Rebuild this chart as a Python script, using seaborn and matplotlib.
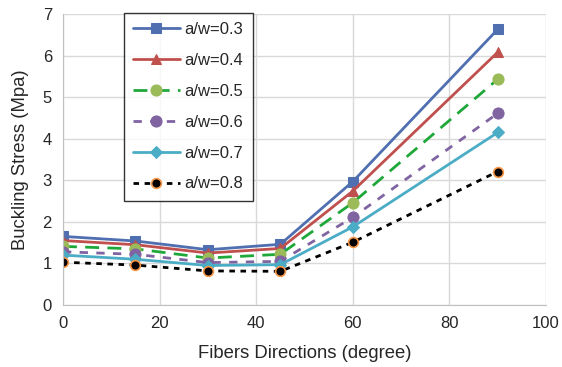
import matplotlib
matplotlib.use("Agg")
import matplotlib.pyplot as plt
import seaborn as sns

# data
angles = [0, 15, 30, 45, 60, 90]
aw_03 = [1.65, 1.54, 1.33, 1.46, 2.97, 6.63]
aw_04 = [1.55, 1.45, 1.25, 1.36, 2.74, 6.08]
aw_05 = [1.41, 1.35, 1.13, 1.22, 2.46, 5.43]
aw_06 = [1.28, 1.22, 1.02, 1.05, 2.11, 4.61]
aw_07 = [1.20, 1.10, 0.95, 0.97, 1.88, 4.15]
aw_08 = [1.03, 0.96, 0.82, 0.81, 1.51, 3.21]
labels = ["a/w=0.3", "a/w=0.4", "a/w=0.5", "a/w=0.6", "a/w=0.7", "a/w=0.8"]

sns.set_style("white")
plt.rcParams['font.family'] = ['Liberation Sans', 'DejaVu Sans']

fig = plt.figure(figsize=(5.62, 3.67), dpi=100)
ax = fig.add_axes([63 / 562, 62 / 367, 483 / 562, 291 / 367])

styles = [
    dict(color='#4F6FB0', linestyle='-', marker='s', ms=7, mfc='#4F6FB0', mec='#4F6FB0'),
    dict(color='#C0504D', linestyle='-', marker='^', ms=7, mfc='#C0504D', mec='#C0504D'),
    dict(color='#1FA83A', linestyle=(0, (5, 3)), marker='o', ms=8, mfc='#9BBB59', mec='#9BBB59'),
    dict(color='#8064A2', linestyle=(0, (3, 3)), marker='o', ms=8, mfc='#8064A2', mec='#8064A2'),
    dict(color='#4BACC6', linestyle='-', marker='D', ms=6, mfc='#4BACC6', mec='#4BACC6'),
    dict(color='black', linestyle=(0, (2, 2)), marker='o', ms=7, mfc='black', mec='#F79646', mew=1.2),
]
series = [aw_03, aw_04, aw_05, aw_06, aw_07, aw_08]

for vals, lab, st in zip(series, labels, styles):
    sns.lineplot(x=angles, y=vals, ax=ax, label=lab, lw=2, **st)

ax.set_xlim(0, 100)
ax.set_ylim(0, 7)
ax.set_xticks(range(0, 101, 20))
ax.set_yticks(range(0, 8))
ax.grid(True, color='#D9D9D9', lw=1)
for s in ['top', 'right']:
    ax.spines[s].set_visible(False)
for s in ['left', 'bottom']:
    ax.spines[s].set_color('#BFBFBF')
ax.tick_params(labelsize=12, length=0, pad=8)
ax.set_xlabel('Fibers Directions (degree)', fontsize=13.3, labelpad=10)
ax.set_ylabel('Buckling Stress (Mpa)', fontsize=13.3, labelpad=10)

leg = ax.legend(loc='upper left', bbox_to_anchor=(0.126, 1.003), fontsize=12,
                handlelength=2.8, handletextpad=0.3, labelspacing=0.95,
                frameon=True, fancybox=False, borderpad=0.55, borderaxespad=0)
leg.get_frame().set_edgecolor('black')
leg.get_frame().set_linewidth(1)

fig.savefig('out.png', dpi=100)
